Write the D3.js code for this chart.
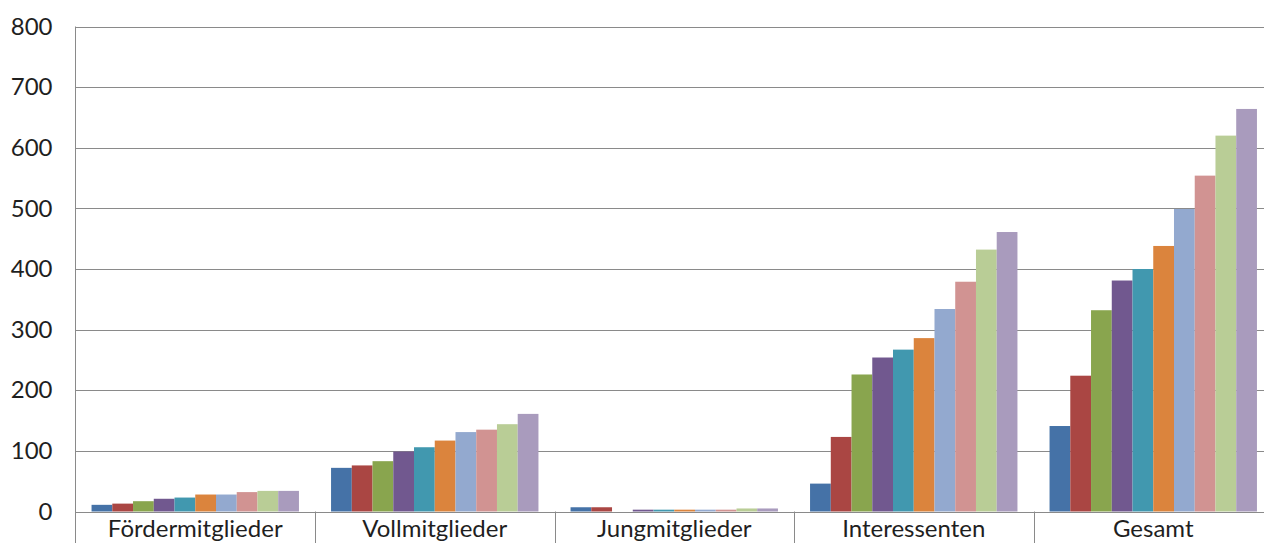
<!DOCTYPE html>
<html>
<head>
<meta charset="utf-8">
<script src="https://cdn.jsdelivr.net/npm/d3@7/dist/d3.min.js"></script>
<style>
  html, body { margin: 0; padding: 0; background: #fff; overflow: hidden; }
  svg { display: block; }
  text { font-family: Lato, "Open Sans", sans-serif; fill: #1f1f1f; }
</style>
</head>
<body>
<svg id="chart" width="1264" height="543"></svg>
<script>
// Mitgliederentwicklung: ten series per member category
const categories = ["Fördermitglieder", "Vollmitglieder", "Jungmitglieder", "Interessenten", "Gesamt"];
const seriesIndex = [0, 1, 2, 3, 4, 5, 6, 7, 8, 9];

const foerdermitglieder = [11, 13, 17, 21, 23, 28, 28, 32, 34, 34];
const vollmitglieder    = [72, 76, 83, 99, 106, 117, 131, 135, 144, 161];
const jungmitglieder    = [7, 7, 0, 3, 3, 3, 3, 3, 5, 5];
const interessenten     = [46, 123, 226, 254, 267, 286, 334, 379, 432, 461];
const gesamt            = [141, 224, 332, 381, 400, 438, 499, 554, 620, 664];

const yTicks = [0, 100, 200, 300, 400, 500, 600, 700, 800];

const palette = ["#4572A7", "#AA4643", "#89A54E", "#71588F", "#4198AF",
                 "#DB843D", "#93A9CF", "#D19392", "#B9CD96", "#A99BBD"];

const values = [foerdermitglieder, vollmitglieder, jungmitglieder, interessenten, gesamt];
const rows = categories.map((c, i) => ({ category: c, values: values[i] }));

const svg = d3.select("#chart");
const plot = { left: 75.5, right: 1273, top: 26.5, bottom: 511.5 };

const y = d3.scaleLinear().domain([0, 800]).range([plot.bottom, plot.top]);
const x0 = d3.scaleBand().domain(categories).range([plot.left, plot.right]).padding(0);
const inset = x0.bandwidth() * 0.067;
const x1 = d3.scaleBand().domain(seriesIndex)
  .range([inset, x0.bandwidth() - inset]).padding(0);

const gridColor = "#8a8a8a";

// horizontal gridlines
svg.append("g")
  .selectAll("line")
  .data(yTicks)
  .join("line")
  .attr("x1", plot.left).attr("x2", plot.right)
  .attr("y1", d => Math.round(y(d)) + 0.5).attr("y2", d => Math.round(y(d)) + 0.5)
  .attr("stroke", gridColor).attr("stroke-width", 1);

// value axis
const yAxis = d3.axisLeft(y).tickValues(yTicks).tickSize(0).tickPadding(23);
const gy = svg.append("g").attr("transform", `translate(${plot.left},0)`).call(yAxis);
gy.select(".domain").remove();
gy.selectAll("text")
  .style("font-size", "24px")
  .style("font-family", "Lato, 'Open Sans', sans-serif")
  .attr("fill", "#1f1f1f");

// bars
const groups = svg.append("g")
  .selectAll("g")
  .data(rows)
  .join("g")
  .attr("transform", d => `translate(${x0(d.category)},0)`);

groups.selectAll("rect")
  .data(d => d.values.map((v, i) => ({ i, v })))
  .join("rect")
  .attr("x", d => x1(d.i))
  .attr("width", x1.bandwidth())
  .attr("y", d => y(d.v))
  .attr("height", d => y(0) - y(d.v))
  .attr("fill", d => palette[d.i]);

// left axis line and category separators
svg.append("line")
  .attr("x1", plot.left).attr("x2", plot.left)
  .attr("y1", plot.top).attr("y2", 560)
  .attr("stroke", gridColor);

const xAxis = d3.axisBottom(x0).tickSize(0).tickPadding(0);
const gx = svg.append("g").attr("transform", `translate(0,${plot.bottom})`).call(xAxis);
gx.select(".domain").remove();
gx.selectAll("text")
  .attr("y", 25.5)
  .attr("dy", 0)
  .style("font-size", "24px")
  .style("font-family", "Lato, 'Open Sans', sans-serif")
  .attr("fill", "#1f1f1f");

svg.append("g")
  .selectAll("line")
  .data(categories.slice(1))
  .join("line")
  .attr("x1", d => Math.round(x0(d)) + 0.5).attr("x2", d => Math.round(x0(d)) + 0.5)
  .attr("y1", plot.bottom).attr("y2", 560)
  .attr("stroke", gridColor);

// baseline over the bars
svg.append("line")
  .attr("x1", plot.left).attr("x2", plot.right)
  .attr("y1", Math.round(y(0)) + 0.5).attr("y2", Math.round(y(0)) + 0.5)
  .attr("stroke", gridColor);
</script>
</body>
</html>
